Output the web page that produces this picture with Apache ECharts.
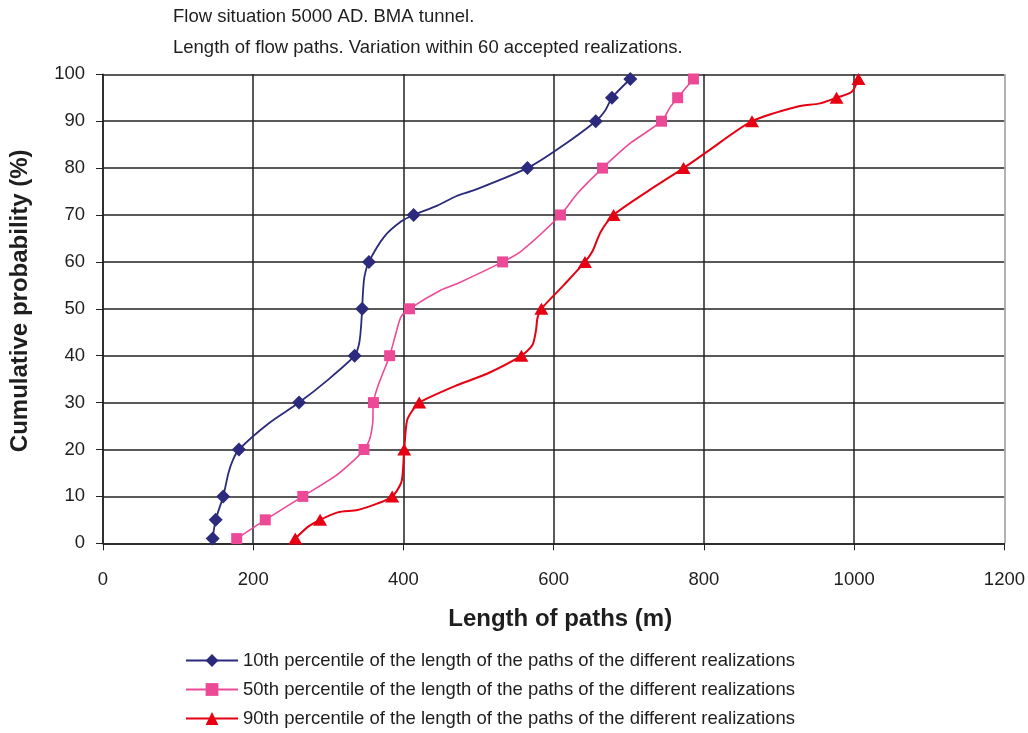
<!DOCTYPE html>
<html>
<head>
<meta charset="utf-8">
<script src="https://cdn.jsdelivr.net/npm/echarts@6/dist/echarts.min.js"></script>
<style>
  html, body { margin: 0; padding: 0; background: #fff; }
  #chart { width: 1028px; height: 733px; }
</style>
</head>
<body>
<div id="chart"></div>
<script>
// Cumulative distribution of flow-path lengths for three percentiles.
// Each curve: path length (m) and cumulative probability (%).
// Points at the marker probabilities carry a symbol; the rest only shape the line.
const markerProbs = [1, 5, 10, 20, 30, 40, 50, 60, 70, 80, 90, 95, 99];

const len10 = [146, 150, 160, 167, 173, 181, 220, 261, 299, 335, 341, 343.5, 345, 346, 348, 354, 374.5, 396.7, 413.5, 445, 470, 494, 565, 605, 656, 669, 677.5, 702];
const prob10 = [1, 5, 10, 15, 17.8, 20, 25.5, 30, 34.8, 40, 42.6, 46.2, 50, 53.3, 56.8, 60, 65.4, 68.6, 70, 72, 74, 75.3, 80, 84, 90, 92.4, 95, 99];

const len50 = [178, 216, 266, 308, 334.6, 347.5, 354.6, 359, 360, 365.7, 381.6, 390, 396.7, 408, 450, 472, 532, 556, 609, 631.5, 665, 702, 743.5, 755.5, 765, 786];
const prob50 = [1, 5, 10, 14.2, 17.8, 20, 22, 25.6, 30, 33.4, 40, 44.8, 48.3, 50, 54, 55.4, 60, 62.2, 70, 74.6, 80, 85.3, 90, 93.1, 95, 99];

const len90 = [256, 272.7, 289, 312.5, 339, 365.7, 385, 396.7, 399, 401, 404.6, 411, 421, 472, 512, 557, 571.7, 576.5, 578.3, 583.6, 613.7, 641.6, 651.4, 662.5, 679.7, 724.5, 772.8, 804.3, 864, 923.8, 954.8, 976.5, 996.9, 1005.7];
const prob90 = [1, 3.5, 5, 6.6, 7.1, 8.5, 10, 12.8, 14.9, 20, 26.1, 28.1, 30, 33.75, 36.2, 40, 42.3, 45.5, 48, 50, 55.1, 60, 62.2, 66.4, 70, 75, 80, 83.5, 90, 93.1, 93.8, 95, 96.3, 99];

const seriesNames = [
  '10th percentile of the length of the paths of the different realizations',
  '50th percentile of the length of the paths of the different realizations',
  '90th percentile of the length of the paths of the different realizations'
];

const xTicks = [0, 200, 400, 600, 800, 1000, 1200];
const yTicks = [0, 10, 20, 30, 40, 50, 60, 70, 80, 90, 100];

const titleLines = [
  'Flow situation 5000 AD. BMA tunnel.',
  'Length of flow paths. Variation within 60 accepted realizations.'
];

function buildPoints(lens, probs) {
  return lens.map(function (l, i) {
    const p = probs[i];
    const item = { value: [l, p] };
    if (markerProbs.indexOf(p) < 0) item.symbol = 'none';
    return item;
  });
}

const fontFamily = 'Arial, "Liberation Sans", Helvetica, sans-serif';
const ink = '#1e1e1e';
const textSize = 18.5;

const chart = echarts.init(document.getElementById('chart'), null, { renderer: 'canvas' });

chart.setOption({
  animation: false,
  backgroundColor: '#ffffff',
  textStyle: { fontFamily: fontFamily },
  title: [
    { text: titleLines[0], left: 173, top: 7, padding: 0, textStyle: { fontSize: textSize, fontWeight: 'normal', color: ink, fontFamily: fontFamily } },
    { text: titleLines[1], left: 173, top: 38, padding: 0, textStyle: { fontSize: textSize, fontWeight: 'normal', color: ink, fontFamily: fontFamily } }
  ],
  grid: { left: 100.5, right: 23, top: 74.3, bottom: 189.7, containLabel: false },
  legend: {
    orient: 'vertical',
    left: 185,
    top: 651,
    height: 120,
    padding: 0,
    itemWidth: 52,
    itemHeight: 16,
    itemGap: 10,
    textStyle: { fontSize: textSize, color: ink, fontFamily: fontFamily },
    data: seriesNames
  },
  xAxis: {
    type: 'value',
    min: xTicks[0],
    max: xTicks[xTicks.length - 1],
    interval: 200,
    name: 'Length of paths (m)',
    nameLocation: 'middle',
    nameGap: 64,
    nameTextStyle: { fontSize: 24, fontWeight: 'bold', color: ink, fontFamily: fontFamily, padding: [0, 0, 0, 13] },
    axisLine: { show: true, onZero: false, lineStyle: { color: '#222', width: 1.5 } },
    axisTick: { show: true, length: 7, lineStyle: { color: '#222' } },
    axisLabel: { fontSize: textSize, color: ink, margin: 27, fontFamily: fontFamily, formatter: function (v) { return String(v); } },
    splitLine: {
      show: true,
      lineStyle: { color: ['#222', '#222', '#222', '#222', '#222', '#222', '#999'], width: 1.5 }
    }
  },
  yAxis: {
    type: 'value',
    min: yTicks[0],
    max: yTicks[yTicks.length - 1],
    interval: 10,
    name: 'Cumulative probability (%)',
    nameLocation: 'middle',
    nameGap: 71,
    nameTextStyle: { fontSize: 24, fontWeight: 'bold', color: ink, fontFamily: fontFamily, padding: [0, 0, 0, 16] },
    axisLine: { show: true, lineStyle: { color: '#222', width: 1.5 } },
    axisTick: { show: true, length: 7, lineStyle: { color: '#222' } },
    axisLabel: { fontSize: textSize, color: ink, margin: 18, fontFamily: fontFamily, formatter: function (v) { return String(v); } },
    splitLine: { show: true, lineStyle: { color: '#222', width: 1.5 } }
  },
  series: [
    {
      name: seriesNames[0],
      type: 'line',
      smooth: 0.25,
      data: buildPoints(len10, prob10),
      symbol: 'diamond',
      symbolSize: 14,
      lineStyle: { color: '#2b2a7c', width: 1.8 },
      itemStyle: { color: '#2b2a7c' },
      z: 4
    },
    {
      name: seriesNames[1],
      type: 'line',
      smooth: 0.25,
      data: buildPoints(len50, prob50),
      symbol: 'rect',
      symbolSize: 11,
      lineStyle: { color: '#ec4a97', width: 1.6 },
      itemStyle: { color: '#ec4a97' },
      z: 3
    },
    {
      name: seriesNames[2],
      type: 'line',
      smooth: 0.25,
      data: buildPoints(len90, prob90),
      symbol: 'triangle',
      symbolSize: [14, 12],
      lineStyle: { color: '#e60012', width: 2 },
      itemStyle: { color: '#e60012' },
      z: 2
    }
  ]
});
</script>
</body>
</html>
